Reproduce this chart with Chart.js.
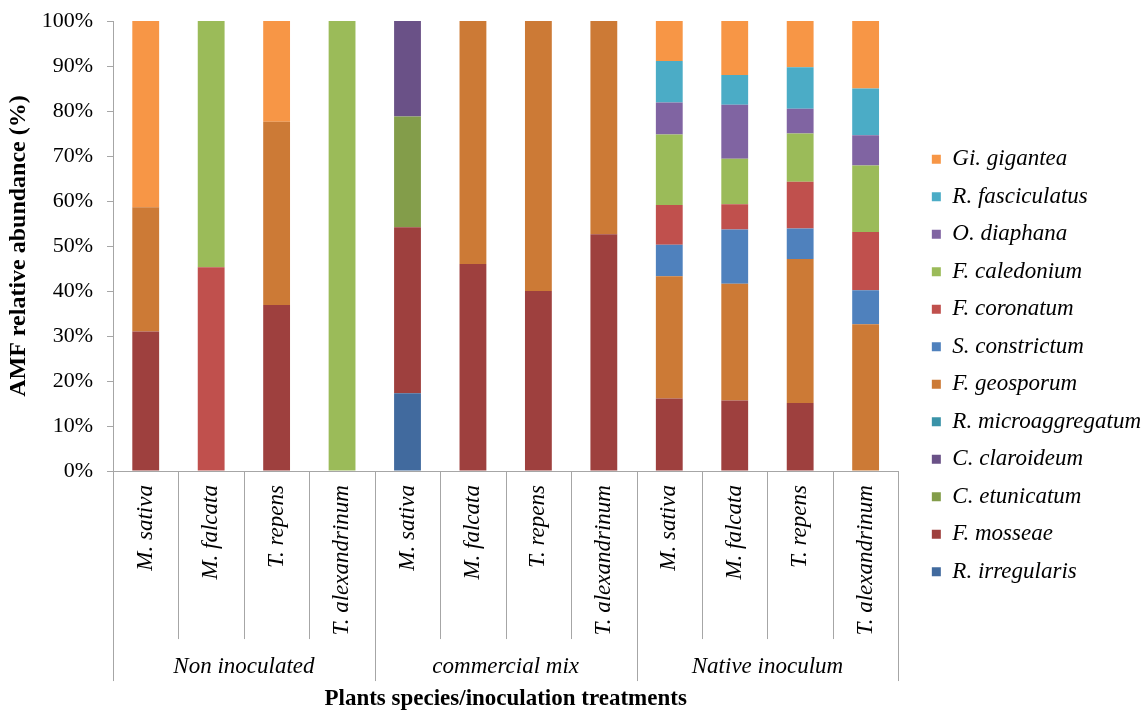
<!DOCTYPE html>
<html>
<head>
<meta charset="utf-8">
<script src="https://cdn.jsdelivr.net/npm/chart.js@4.4.1/dist/chart.umd.min.js"></script>
<style>
  body { margin: 0; background: #fff; }
  canvas { display: block; }
</style>
</head>
<body>
<canvas id="amfChart" width="1146" height="710"></canvas>
<script>
// plant species (x labels) and inoculation treatments (groups)
const plants = ["M. sativa", "M. falcata", "T. repens", "T. alexandrinum",
                "M. sativa", "M. falcata", "T. repens", "T. alexandrinum",
                "M. sativa", "M. falcata", "T. repens", "T. alexandrinum"];
const treatments = ["Non inoculated", "commercial mix", "Native inoculum"];
const yTicks = [0, 10, 20, 30, 40, 50, 60, 70, 80, 90, 100];

// relative abundance (%) of each AMF taxon per bar
const rIrregularis   = [0, 0, 0, 0, 17.3, 0, 0, 0, 0, 0, 0, 0];
const fMosseae       = [31, 0, 36.9, 0, 36.9, 46, 40, 52.6, 16.1, 15.7, 15.1, 0];
const cEtunicatum    = [0, 0, 0, 0, 24.6, 0, 0, 0, 0, 0, 0, 0];
const cClaroideum    = [0, 0, 0, 0, 21.2, 0, 0, 0, 0, 0, 0, 0];
const rMicroaggreg   = [0, 0, 0, 0, 0, 0, 0, 0, 0, 0, 0, 0];
const fGeosporum     = [27.6, 0, 40.7, 0, 0, 54, 60, 47.4, 27.2, 25.9, 32.0, 32.6];
const sConstrictum   = [0, 0, 0, 0, 0, 0, 0, 0, 7.0, 12.1, 6.8, 7.6];
const fCoronatum     = [0, 45.3, 0, 0, 0, 0, 0, 0, 8.8, 5.6, 10.4, 12.9];
const fCaledonium    = [0, 54.7, 0, 100, 0, 0, 0, 0, 15.7, 10.1, 10.7, 14.8];
const oDiaphana      = [0, 0, 0, 0, 0, 0, 0, 0, 7.1, 12.0, 5.5, 6.7];
const rFasciculatus  = [0, 0, 0, 0, 0, 0, 0, 0, 9.2, 6.6, 9.2, 10.4];
const giGigantea     = [41.4, 0, 22.4, 0, 0, 0, 0, 0, 8.9, 12.0, 10.3, 15.0];

const serif = "'Liberation Serif', 'Times New Roman', serif";

function ds(label, data, color) {
    return { label: label, data: data, backgroundColor: color, borderWidth: 0,
             barPercentage: 0.41, categoryPercentage: 1 };
}

const datasets = [
    ds("R. irregularis", rIrregularis, "#416a9e"),
    ds("F. mosseae", fMosseae, "#9e403e"),
    ds("C. etunicatum", cEtunicatum, "#839d4a"),
    ds("C. claroideum", cClaroideum, "#6a5187"),
    ds("R. microaggregatum", rMicroaggreg, "#3a93a8"),
    ds("F. geosporum", fGeosporum, "#cc7a36"),
    ds("S. constrictum", sConstrictum, "#4f81bd"),
    ds("F. coronatum", fCoronatum, "#c0504d"),
    ds("F. caledonium", fCaledonium, "#9bbb59"),
    ds("O. diaphana", oDiaphana, "#8064a2"),
    ds("R. fasciculatus", rFasciculatus, "#4bacc6"),
    ds("Gi. gigantea", giGigantea, "#f79646"),
];

// separators below the x axis and the treatment labels
const groupAxis = {
    id: "groupAxis",
    afterDraw(chart) {
        const ctx = chart.ctx;
        const xs = chart.scales.x;
        const area = chart.chartArea;
        const n = plants.length;
        const bounds = [area.left];
        for (let i = 1; i < n; i++) {
            bounds.push((xs.getPixelForTick(i - 1) + xs.getPixelForTick(i)) / 2);
        }
        bounds.push(area.right);

        ctx.save();
        ctx.strokeStyle = "#a6a6a6";
        ctx.lineWidth = 1;
        bounds.forEach((bx, i) => {
            const x = Math.round(bx) + 0.5;
            const isGroup = i % 4 === 0;
            ctx.beginPath();
            ctx.moveTo(x, area.bottom);
            ctx.lineTo(x, isGroup ? area.bottom + 210 : area.bottom + 168);
            ctx.stroke();
        });

        ctx.fillStyle = "#000";
        ctx.font = "italic 23px " + serif;
        ctx.textAlign = "center";
        ctx.textBaseline = "middle";
        treatments.forEach((t, g) => {
            const cx = (bounds[g * 4] + bounds[g * 4 + 4]) / 2;
            ctx.fillText(t, cx, area.bottom + 196);
        });
        ctx.restore();
    }
};

const ctx = document.getElementById("amfChart").getContext("2d");
new Chart(ctx, {
    type: "bar",
    data: { labels: plants, datasets: datasets },
    plugins: [groupAxis],
    options: {
        responsive: false,
        animation: false,
        layout: { padding: { left: 4, right: -5, top: 21, bottom: 0 } },
        plugins: {
            tooltip: { enabled: false },
            legend: {
                position: "right",
                reverse: true,
                maxWidth: 320,
                labels: {
                    boxWidth: 9,
                    boxHeight: 9,
                    padding: 14.5,
                    color: "#000",
                    font: { family: serif, size: 23, style: "italic" }
                }
            }
        },
        scales: {
            x: {
                stacked: true,
                grid: { display: false, drawTicks: false },
                border: { display: true, color: "#a6a6a6" },
                ticks: {
                    color: "#000",
                    minRotation: 90,
                    maxRotation: 90,
                    padding: 14,
                    autoSkip: false,
                    font: { family: serif, size: 23, style: "italic" }
                },
                title: {
                    display: true,
                    text: "Plants species/inoculation treatments",
                    color: "#000",
                    padding: { top: 36, bottom: -3 },
                    font: { family: serif, size: 23, weight: "bold" }
                }
            },
            y: {
                stacked: true,
                min: 0,
                max: 100,
                afterBuildTicks(scale) {
                    scale.ticks = yTicks.map(v => ({ value: v }));
                },
                afterFit(scale) {
                    scale.width = 109;
                    scale.paddingTop = 0;
                },
                grid: { drawOnChartArea: false, tickLength: 6, color: "#a6a6a6" },
                border: { display: true, color: "#a6a6a6" },
                ticks: {
                    color: "#000",
                    padding: 14,
                    font: { family: serif, size: 22 },
                    callback: v => v + "%"
                },
                title: {
                    display: true,
                    text: "AMF relative abundance (%)",
                    color: "#000",
                    padding: { top: 0, bottom: 0 },
                    font: { family: serif, size: 24, weight: "bold" }
                }
            },
            // empty spacer between the bars and the legend
            gap: {
                type: "linear",
                position: "right",
                display: true,
                grid: { display: false },
                border: { display: false },
                ticks: { display: false },
                afterFit(scale) { scale.width = 19; }
            }
        }
    }
});
</script>
</body>
</html>
